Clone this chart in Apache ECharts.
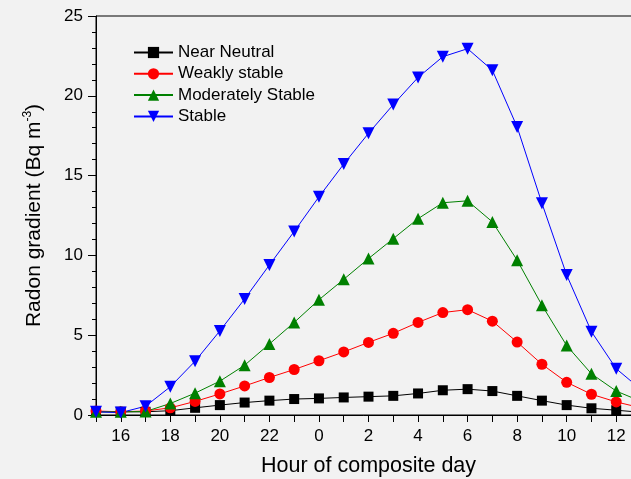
<!DOCTYPE html>
<html>
<head>
<meta charset="utf-8">
<script src="https://cdn.jsdelivr.net/npm/echarts@6/dist/echarts.min.js"></script>
<style>
html,body{margin:0;padding:0;background:#f2f2f2;}
#chart{width:631px;height:479px;}
</style>
</head>
<body>
<div id="chart"></div>
<script>
var hours = ['15','16','17','18','19','20','21','22','23','0','1','2','3','4','5','6','7','8','9','10','11','12','13'];
var nearNeutral = [0.2,0.2,0.2,0.27,0.45,0.62,0.78,0.9,1.0,1.04,1.1,1.15,1.2,1.35,1.55,1.62,1.5,1.2,0.9,0.62,0.42,0.3,0.17];
var weaklyStable = [0.25,0.2,0.25,0.45,0.85,1.32,1.82,2.35,2.85,3.4,3.95,4.55,5.12,5.8,6.42,6.6,5.88,4.57,3.18,2.05,1.3,0.82,0.45];
var moderatelyStable = [0.2,0.2,0.22,0.72,1.37,2.12,3.12,4.45,5.8,7.22,8.5,9.8,11.05,12.3,13.3,13.42,12.1,9.7,6.88,4.35,2.58,1.5,0.85];
var stable = [0.2,0.15,0.55,1.77,3.37,5.27,7.27,9.4,11.5,13.67,15.72,17.65,19.45,21.15,22.45,22.95,21.6,18.05,13.27,8.77,5.22,2.9,1.6];

var FONT = '"Liberation Sans", Arial, sans-serif';
var chart = echarts.init(document.getElementById('chart'));

function mk(name, data, color, symbol, size, rot) {
  return {
    name: name, type: 'line', data: data,
    symbol: symbol, symbolSize: size, symbolRotate: rot || 0,
    showAllSymbol: true,
    lineStyle: {color: color, width: 1},
    itemStyle: {color: color},
    emphasis: {disabled: true},
    animation: false
  };
}

chart.setOption({
  backgroundColor: '#f2f2f2',
  animation: false,
  grid: {left: 96, top: 16, bottom: 64, right: -10, containLabel: false, outerBoundsMode: 'none',
         show: true, borderColor: '#000', borderWidth: 1, backgroundColor: 'transparent'},
  legend: {
    orient: 'vertical', left: 133, top: 44, padding: 0,
    itemWidth: 39, itemHeight: 14, itemGap: 4.3,
    textStyle: {fontFamily: FONT, fontSize: 17, color: '#000'},
    data: ['Near Neutral','Weakly stable','Moderately Stable','Stable']
  },
  xAxis: {
    type: 'category', data: hours, boundaryGap: false,
    name: 'Hour of composite day', nameLocation: 'middle', nameGap: 40,
    nameTextStyle: {fontFamily: FONT, fontSize: 21.5, color: '#000'},
    axisLine: {lineStyle: {color: '#000', width: 1}},
    axisTick: {show: true, inside: false, length: 7, interval: 0, lineStyle: {color: '#000'}},
    axisLabel: {
      fontFamily: FONT, fontSize: 17, color: '#000', margin: 13,
      interval: function (idx) { return idx % 2 === 1; }
    },
    splitLine: {show: false}
  },
  yAxis: {
    type: 'value', min: 0, max: 25, interval: 5,
    name: 'Radon gradient (Bq m{sup|-3})', nameLocation: 'middle', nameGap: 50,
    nameTextStyle: {
      fontFamily: FONT, fontSize: 21, color: '#000',
      rich: {sup: {fontFamily: FONT, fontSize: 12, color: '#000', verticalAlign: 'top', padding: [0,0,12,0]}}
    },
    axisLine: {show: true, lineStyle: {color: '#000', width: 1}},
    axisTick: {show: true, inside: false, length: 8, lineStyle: {color: '#000'}},
    minorTick: {show: true, splitNumber: 5, length: 4, lineStyle: {color: '#000'}},
    axisLabel: {fontFamily: FONT, fontSize: 17, color: '#000', margin: 13},
    splitLine: {show: false}
  },
  series: [
    mk('Near Neutral', nearNeutral, '#000000', 'rect', 10),
    mk('Weakly stable', weaklyStable, '#ff0000', 'circle', 11),
    mk('Moderately Stable', moderatelyStable, '#008000', 'triangle', 12),
    mk('Stable', stable, '#0000ff', 'triangle', 12, 180)
  ]
});
</script>
</body>
</html>
